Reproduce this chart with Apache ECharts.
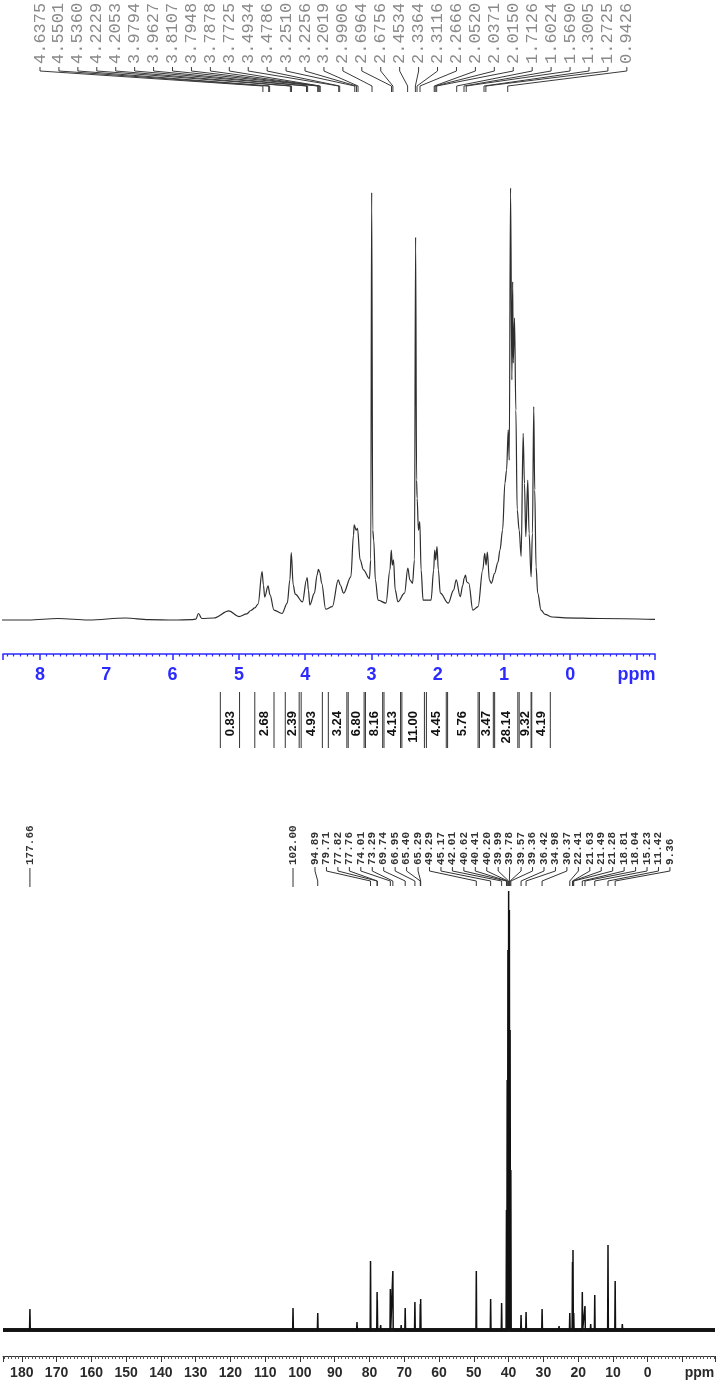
<!DOCTYPE html>
<html><head><meta charset="utf-8">
<script src="https://cdn.jsdelivr.net/npm/echarts@6/dist/echarts.min.js"></script>
<style>html,body{margin:0;padding:0;background:#fff}#c{width:718px;height:1384px}</style>
</head><body><div id="c"></div>
<script>
// ---------- 1H spectrum: traced points [ppm, relative intensity] ----------
const hSpectrum = [
 [8.59,0],[8.18,0],[7.73,0.35],[7.27,0],[6.71,0.46],[6.36,0.1],[5.98,0],[5.71,0.1],[5.65,0.2],[5.61,1.5],
 [5.56,0.35],[5.38,0.46],[5.15,2.1],[5.00,0.8],[4.88,1.4],[4.82,2.2],[4.76,2.8],[4.71,3.7],[4.65,11.2],[4.63,8.1],
 [4.61,5.3],[4.56,7.9],[4.53,5.8],[4.47,2.3],[4.35,1.5],[4.27,3.9],[4.23,9.3],[4.21,15.6],[4.18,8.1],[4.15,6.0],
 [4.04,4.2],[3.98,9.3],[3.97,9.8],[3.95,6.9],[3.93,3.5],[3.86,6.2],[3.82,10.4],[3.80,11.7],[3.78,11.1],[3.75,8.5],
 [3.69,2.5],[3.59,3.1],[3.50,9.3],[3.47,8.1],[3.42,6.2],[3.31,10.0],[3.27,19.7],[3.26,22.0],[3.23,20.8],[3.21,21.2],
 [3.17,13.9],[3.12,11.6],[3.03,9.6],[3.01,13.9],[2.996,99],[2.98,20.8],[2.965,18.5],[2.94,9.3],[2.90,4.6],[2.78,3.9],
 [2.72,11.6],[2.70,16.2],[2.685,12.7],[2.667,13.9],[2.64,6.9],[2.60,4.2],[2.50,6.2],[2.45,12.0],[2.42,9.3],[2.38,8.5],
 [2.35,13.9],[2.333,88.6],[2.318,32.4],[2.31,28.2],[2.29,20.8],[2.27,22.8],[2.25,11.6],[2.22,4.6],[2.10,4.6],[2.06,11.6],
 [2.045,16.2],[2.03,13.9],[2.01,17.0],[1.99,11.6],[1.96,6.2],[1.84,3.9],[1.76,6.9],[1.72,9.3],[1.66,5.4],[1.62,8.1],
 [1.60,9.7],[1.58,10.4],[1.56,8.8],[1.53,8.5],[1.47,2.3],[1.39,3.1],[1.32,11.6],[1.29,15.4],[1.27,12.7],[1.25,15.7],
 [1.22,9.3],[1.19,8.5],[1.14,10.8],[1.09,13.4],[1.06,16.2],[1.02,20.8],[0.985,31.7],[0.96,34.7],[0.935,44.0],[0.92,37.0],
 [0.90,100],[0.88,55.6],[0.868,78.3],[0.86,59.5],[0.84,69.9],[0.82,48.6],[0.80,25.5],[0.77,20.8],[0.74,14.7],[0.71,43.2],
 [0.69,31.6],[0.67,19.3],[0.64,32.4],[0.62,20.0],[0.59,10.0],[0.57,20.1],[0.55,49.4],[0.535,30.1],[0.515,12.3],[0.49,6.2],
 [0.44,2.3],[0.38,1.3],[0.27,0.7],[0.08,0.5],[-0.45,0.35],[-1.28,0.16]
];
const hPeakLabels = [4.6375,4.5501,4.5360,4.2229,4.2053,3.9794,3.9627,3.8107,3.7948,3.7878,3.7725,3.4934,3.4786,
 3.2510,3.2256,3.2019,2.9906,2.6964,2.6756,2.4534,2.3364,2.3116,2.2666,2.0520,2.0371,2.0150,1.7126,1.6024,1.5690,
 1.3005,1.2725,0.9426];
const hIntegralStart = [5.28,4.76,4.30,4.06,3.65,3.35,3.09,2.81,2.54,2.17,1.85,1.37,1.14,0.77,0.58];
const hIntegralEnd   = [4.99,4.47,4.09,3.74,3.37,3.11,2.83,2.56,2.20,1.87,1.39,1.16,0.79,0.59,0.30];
const hIntegralValues = [0.83,2.68,2.39,4.93,3.24,6.80,8.16,4.13,11.00,4.45,5.76,3.47,28.14,9.32,4.19];

// ---------- 13C spectrum: peak positions (ppm) and heights ----------
const cPeakPpm = [177.66,102.00,94.89,83.6,79.71,77.82,77.76,76.8,74.01,73.29,70.9,69.74,66.95,65.40,65.29,
 49.29,45.17,42.01,40.62,40.41,40.20,39.99,39.78,39.57,39.36,36.42,34.98,30.37,25.5,22.41,21.63,21.49,21.28,
 18.81,18.04,16.4,15.23,11.42,9.36,7.3];
const cPeakHeight = [21,22,17,8,69,38,30,5,41,59,5,22,28,26,31,
 59,31,27,120,250,380,439,420,300,160,15,18,21,4,17,68,80,17,
 38,24,6,35,85,49,6];
const cLabelsSingle = [177.66,102.00];
const cLabelsCluster = [94.89,79.71,77.82,77.76,74.01,73.29,69.74,66.95,65.40,65.29,49.29,45.17,42.01,40.62,
 40.41,40.20,39.99,39.78,39.57,39.36,36.42,34.98,30.37,22.41,21.63,21.49,21.28,18.81,18.04,15.23,11.42,9.36];

// ---------- layout constants ----------
const H_MIN = -1.28, H_MAX = 8.56, C_MIN = -19.35, C_MAX = 185.4;
const BLUE = '#2b2bff';
const PEAK_HALF_WIDTH = 0.1;

const cLine = [[C_MAX, 0]];
cPeakPpm.forEach((p, i) => {
  cLine.push([p + PEAK_HALF_WIDTH, 0], [p, cPeakHeight[i]], [p - PEAK_HALF_WIDTH, 0]);
});
cLine.push([C_MIN, 0]);

const chart = echarts.init(document.getElementById('c'), null, {renderer: 'canvas'});

function hLabelRender(params, api) {
  const i = params.dataIndex;
  const px = api.coord([api.value(0), 0])[0];
  const lx = 40 + i * 18.93;
  return {type: 'group', children: [
    {type: 'text', x: lx, y: 64, rotation: Math.PI / 2,
     style: {text: hPeakLabels[i].toFixed(4), font: '17px "Liberation Mono"', fill: '#8a8a8a', align: 'left', verticalAlign: 'middle'}},
    {type: 'polyline', shape: {points: [[lx, 67], [lx, 71], [px, 86], [px, 92]]},
     style: {stroke: '#3a3a3a', lineWidth: 1, fill: null}}
  ]};
}
function hIntegralRender(params, api) {
  const x1 = api.coord([api.value(0), 0])[0];
  const x2 = api.coord([api.value(1), 0])[0];
  const v = api.value(2);
  return {type: 'group', children: [
    {type: 'line', shape: {x1: x1, y1: 692, x2: x1, y2: 748}, style: {stroke: '#333', lineWidth: 1}},
    {type: 'line', shape: {x1: x2, y1: 692, x2: x2, y2: 748}, style: {stroke: '#333', lineWidth: 1}},
    {type: 'text', x: (x1 + x2) / 2, y: 711, rotation: Math.PI / 2,
     style: {text: v.toFixed(2), font: 'bold 13px "Liberation Sans"', fill: '#111', align: 'right', verticalAlign: 'middle'}}
  ]};
}
function cSingleRender(params, api) {
  const px = api.coord([api.value(0), 0])[0];
  return {type: 'group', children: [
    {type: 'text', x: px, y: 865, rotation: Math.PI / 2,
     style: {text: api.value(0).toFixed(2), font: 'bold 11px "Liberation Mono"', fill: '#333', align: 'left', verticalAlign: 'middle'}},
    {type: 'line', shape: {x1: px, y1: 868, x2: px, y2: 887}, style: {stroke: '#333', lineWidth: 1}}
  ]};
}
function cClusterRender(params, api) {
  const i = params.dataIndex;
  const px = api.coord([api.value(0), 0])[0];
  const lx = 315 + i * 11.45;
  return {type: 'group', children: [
    {type: 'text', x: lx, y: 865, rotation: Math.PI / 2,
     style: {text: api.value(0).toFixed(2), font: 'bold 11px "Liberation Mono"', fill: '#333', align: 'left', verticalAlign: 'middle'}},
    {type: 'polyline', shape: {points: [[lx, 867], [lx, 871], [px, 881], [px, 886]]},
     style: {stroke: '#333', lineWidth: 1, fill: null}}
  ]};
}

const option = {
  animation: false,
  backgroundColor: '#fff',
  grid: [
    {left: 3, right: 63, top: 188, bottom: 730, containLabel: false},
    {left: 3, right: 3, top: 891, bottom: 28, containLabel: false}
  ],
  xAxis: [
    {gridIndex: 0, type: 'value', min: H_MIN, max: H_MAX, inverse: true, splitNumber: 10,
     axisLine: {onZero: false, lineStyle: {color: BLUE, width: 1.5}},
     axisTick: {length: 6, lineStyle: {color: BLUE, width: 1.5}},
     minorTick: {show: true, splitNumber: 10, length: 2.5, lineStyle: {color: BLUE, width: 1.2}},
     splitLine: {show: false},
     axisLabel: {margin: 12, color: BLUE, fontSize: 18, fontWeight: 'bold', fontFamily: 'Liberation Sans',
       showMinLabel: false, showMaxLabel: false,
       formatter: v => Math.abs(v + 1) < 1e-6 ? 'ppm' : String(Math.round(v))}},
    {gridIndex: 1, type: 'value', min: C_MIN, max: C_MAX, inverse: true, splitNumber: 20,
     axisLine: {onZero: false, lineStyle: {color: '#333', width: 1}},
     axisTick: {length: 6, lineStyle: {color: '#333', width: 1}},
     minorTick: {show: true, splitNumber: 10, length: 3, lineStyle: {color: '#555', width: 1}},
     splitLine: {show: false},
     axisLabel: {margin: 10, color: '#2a2a2a', fontSize: 14, fontWeight: 'bold', fontFamily: 'Liberation Sans',
       showMinLabel: false, showMaxLabel: false,
       formatter: v => Math.abs(v + 10) < 1e-6 ? '{p|ppm}' : String(Math.round(v)),
       rich: {p: {padding: [0, 0, 0, 34], fontSize: 14, fontWeight: 'bold', fontFamily: 'Liberation Sans', color: '#2a2a2a'}}}}
  ],
  yAxis: [
    {gridIndex: 0, type: 'value', min: -7.87, max: 100, show: false},
    {gridIndex: 1, type: 'value', min: -26, max: 439, show: false}
  ],
  series: [
    {type: 'line', xAxisIndex: 0, yAxisIndex: 0, data: hSpectrum, symbol: 'none', showSymbol: false,
     smooth: 0.35, smoothMonotone: 'x',
     lineStyle: {color: '#2e2e2e', width: 1.2}, clip: false, silent: true},
    {type: 'custom', xAxisIndex: 0, yAxisIndex: 0, data: hPeakLabels.map(p => [p, 0]), renderItem: hLabelRender, silent: true},
    {type: 'custom', xAxisIndex: 0, yAxisIndex: 0,
     data: hIntegralValues.map((v, i) => [hIntegralStart[i], hIntegralEnd[i], v]),
     encode: {x: [0, 1], y: 2}, renderItem: hIntegralRender, silent: true},
    {type: 'line', xAxisIndex: 1, yAxisIndex: 1, data: [[C_MAX, 0], [C_MIN, 0]], symbol: 'none',
     lineStyle: {color: '#1a1a1a', width: 4}, silent: true},
    {type: 'line', xAxisIndex: 1, yAxisIndex: 1, data: cLine, symbol: 'none', showSymbol: false,
     lineStyle: {color: '#111', width: 1.5}, clip: false, silent: true},
    {type: 'custom', xAxisIndex: 1, yAxisIndex: 1, data: cLabelsSingle.map(p => [p, 0]), renderItem: cSingleRender, silent: true},
    {type: 'custom', xAxisIndex: 1, yAxisIndex: 1, data: cLabelsCluster.map(p => [p, 0]), renderItem: cClusterRender, silent: true}
  ]
};
chart.setOption(option);
</script></body></html>
